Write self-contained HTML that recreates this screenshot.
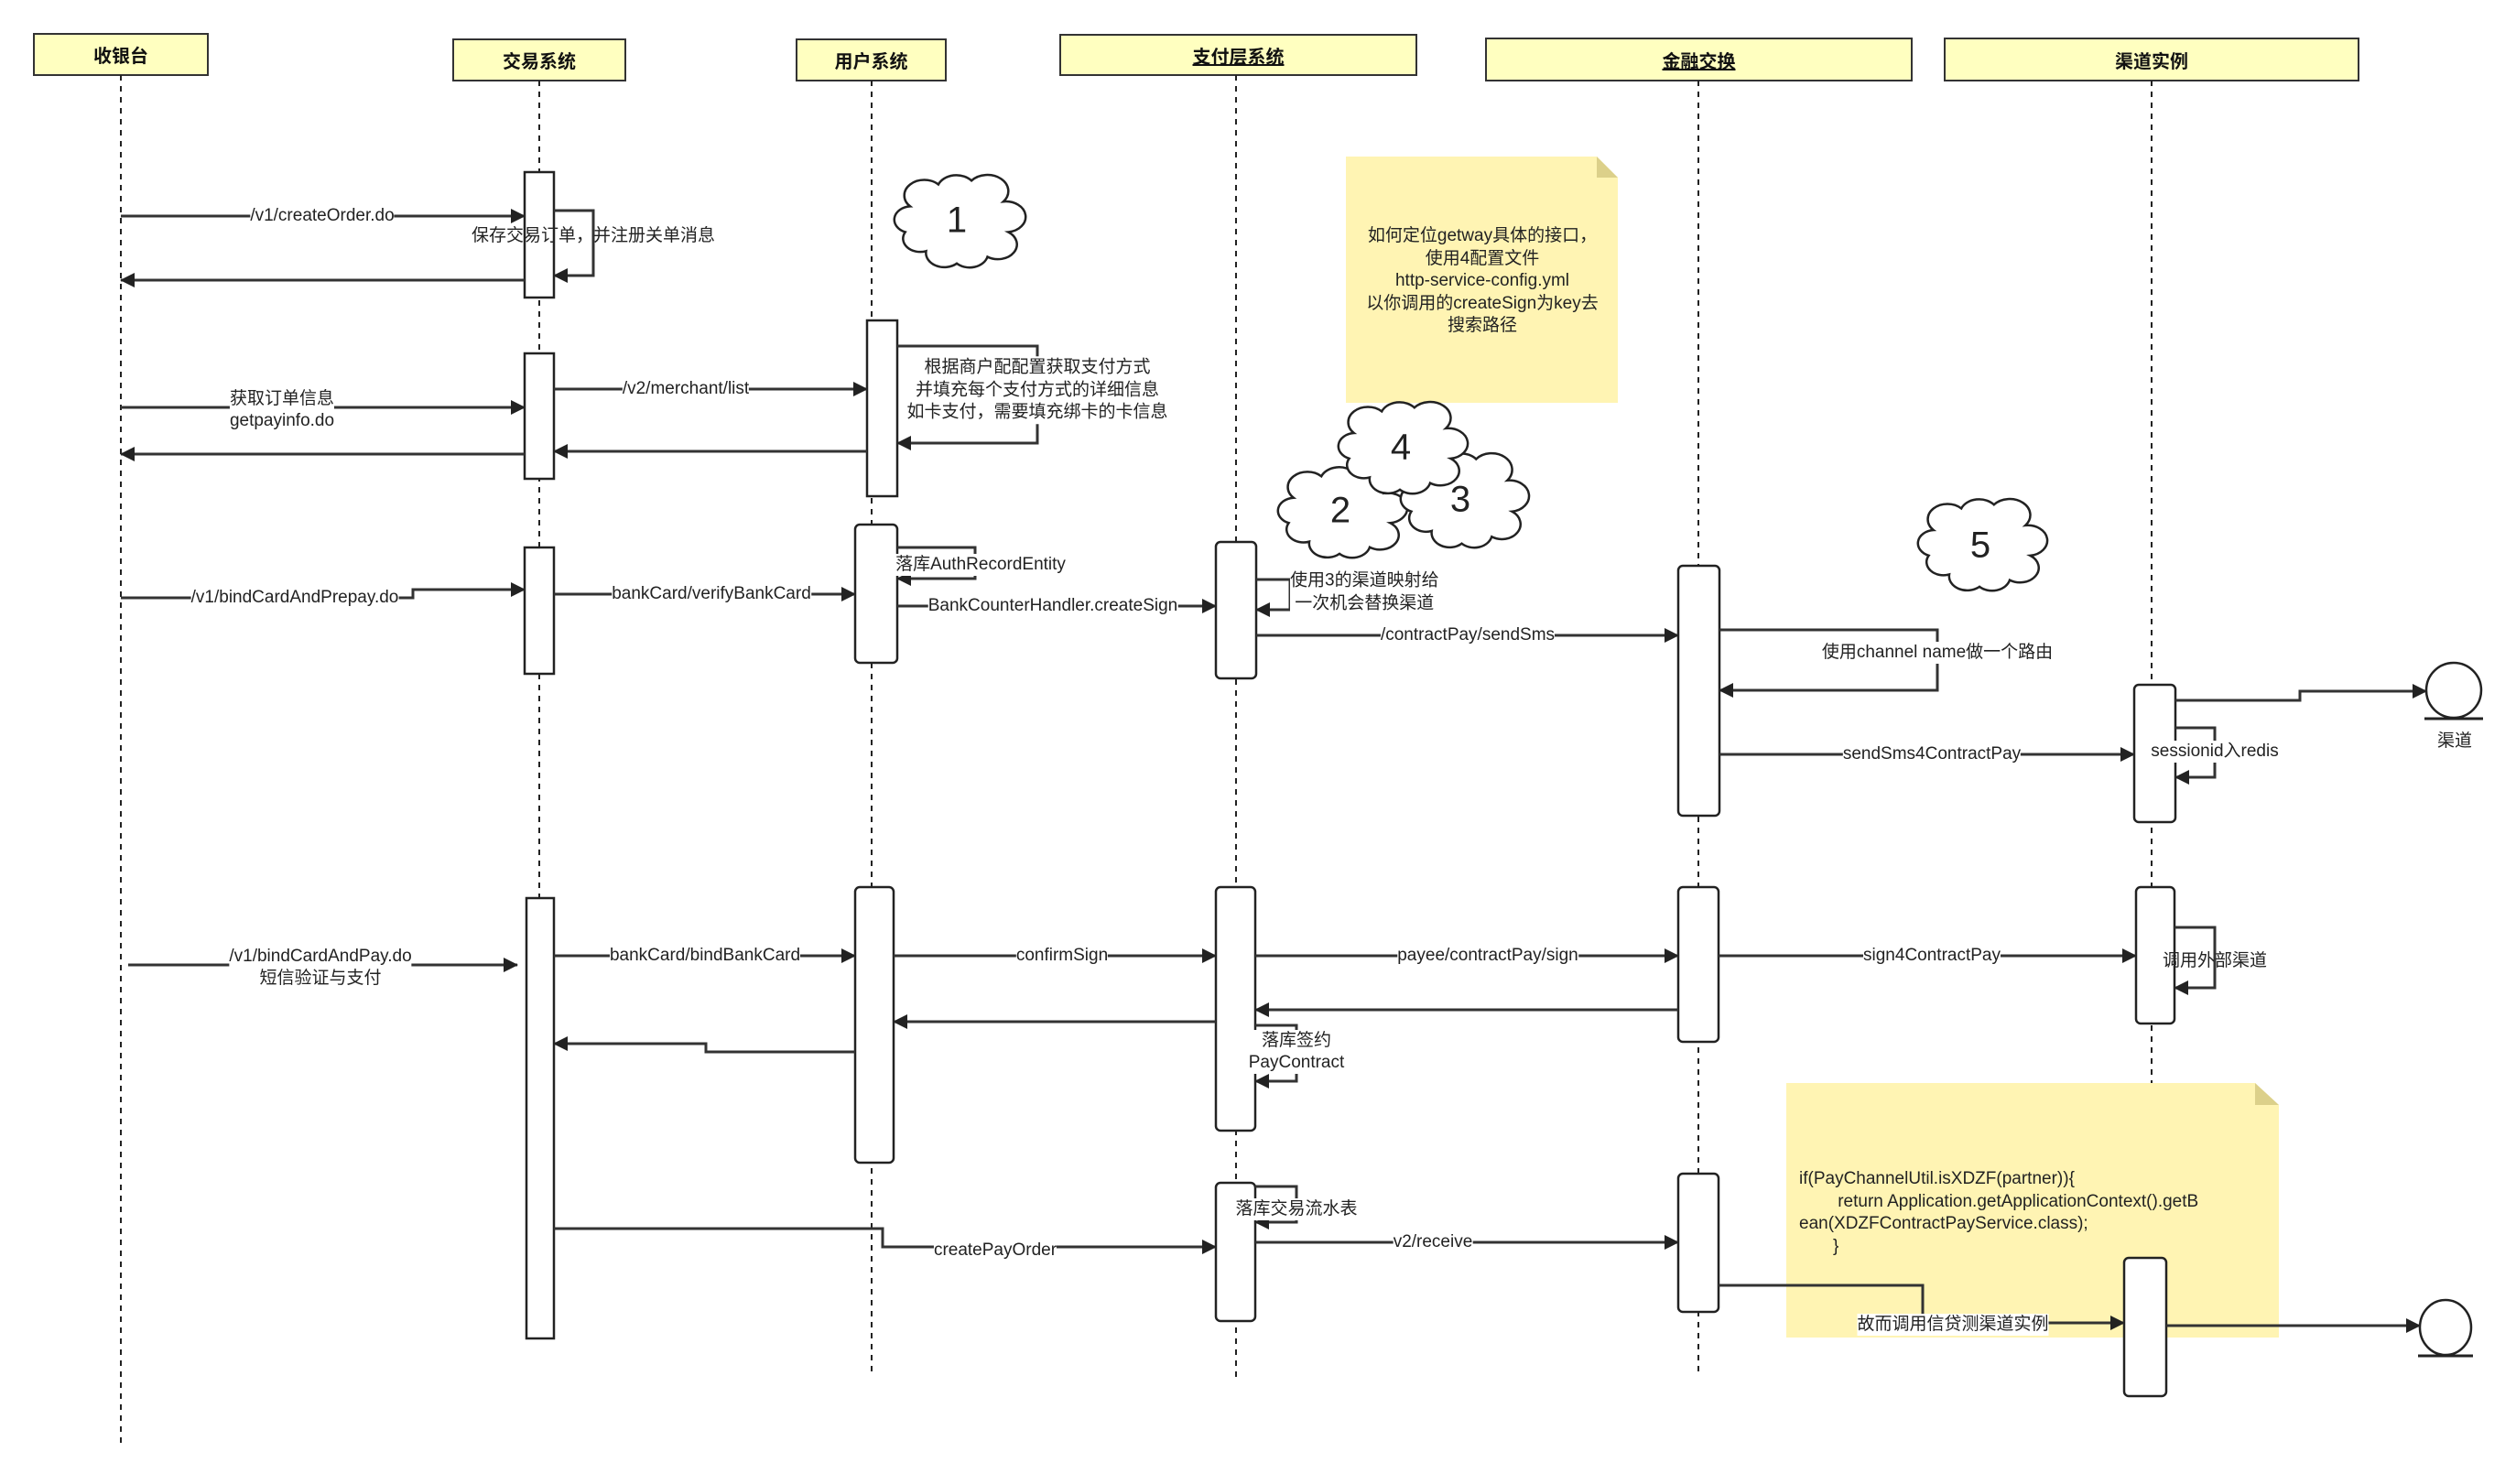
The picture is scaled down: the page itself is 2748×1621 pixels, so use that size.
<!DOCTYPE html>
<html><head><meta charset="utf-8"><style>
html,body{margin:0;padding:0;background:#fff;}
#w{position:relative;width:2748px;height:1621px;overflow:hidden;font-family:"Liberation Sans","Noto Sans CJK SC",sans-serif;}
svg{position:absolute;left:0;top:0;}
.l{position:absolute;transform:translate(-50%,-50%);font-size:19px;color:#222;background:#fff;white-space:nowrap;line-height:24px;text-align:center;}
.n{position:absolute;transform:translate(-50%,-50%);font-size:19px;color:#222;white-space:nowrap;line-height:24.5px;text-align:center;}
.h{position:absolute;display:flex;align-items:center;justify-content:center;font-weight:bold;font-size:20px;color:#111;}
.c{position:absolute;transform:translate(-50%,-50%);font-size:40px;color:#222;}
</style></head><body><div id="w">
<svg width="2748" height="1621" viewBox="0 0 2748 1621">
<defs>
<marker id="a" markerUnits="userSpaceOnUse" markerWidth="16" markerHeight="18" refX="15" refY="9" orient="auto"><path d="M0,1 L16,9 L0,17 Z" fill="#222"/></marker>
</defs>
<g fill="#ffffc0" stroke="#333" stroke-width="2">
<rect x="37" y="37" width="190" height="45"/>
<rect x="495" y="43" width="188" height="45"/>
<rect x="870" y="43" width="163" height="45"/>
<rect x="1158" y="38" width="389" height="44"/>
<rect x="1623" y="42" width="465" height="46"/>
<rect x="2124" y="42" width="452" height="46"/>
</g>
<g stroke="#222" stroke-width="2" stroke-dasharray="6 6" fill="none">
<line x1="132" y1="82" x2="132" y2="1580"/>
<line x1="589" y1="88" x2="589" y2="981"/>
<line x1="952" y1="88" x2="952" y2="1500"/>
<line x1="1350" y1="82" x2="1350" y2="1505"/>
<line x1="1855" y1="88" x2="1855" y2="1500"/>
<line x1="2350" y1="88" x2="2350" y2="1190"/>
</g>
<!-- notes -->
<path d="M1470,171 L1744,171 L1767,194 L1767,440 L1470,440 Z" fill="#fff4b3"/>
<path d="M1744,171 L1767,194 L1744,194 Z" fill="#dcd08a"/>
<path d="M1951,1183 L2463,1183 L2489,1207 L2489,1461 L1951,1461 Z" fill="#fff4b3"/>
<path d="M2463,1183 L2489,1207 L2463,1207 Z" fill="#dcd08a"/>
<!-- clouds -->
<g fill="#fff" stroke="#222" stroke-width="2.5">
<path id="cl" vector-effect="non-scaling-stroke" d="M25,82 A14,14 0 0 1 8,62 A14,14 0 0 1 12,35 A16,16 0 0 1 35,12 A16,16 0 0 1 62,8 A15,15 0 0 1 88,30 A14,14 0 0 1 92,62 A14,14 0 0 1 75,88 A15,15 0 0 1 50,95 A15,15 0 0 1 25,82 Z" transform="translate(978,189) scale(1.34,1.04)"/>
<path vector-effect="non-scaling-stroke" d="M25,82 A14,14 0 0 1 8,62 A14,14 0 0 1 12,35 A16,16 0 0 1 35,12 A16,16 0 0 1 62,8 A15,15 0 0 1 88,30 A14,14 0 0 1 92,62 A14,14 0 0 1 75,88 A15,15 0 0 1 50,95 A15,15 0 0 1 25,82 Z" transform="translate(1397,508) scale(1.32,1.02)"/>
<path vector-effect="non-scaling-stroke" d="M25,82 A14,14 0 0 1 8,62 A14,14 0 0 1 12,35 A16,16 0 0 1 35,12 A16,16 0 0 1 62,8 A15,15 0 0 1 88,30 A14,14 0 0 1 92,62 A14,14 0 0 1 75,88 A15,15 0 0 1 50,95 A15,15 0 0 1 25,82 Z" transform="translate(1531,493) scale(1.31,1.06)"/>
<path vector-effect="non-scaling-stroke" d="M25,82 A14,14 0 0 1 8,62 A14,14 0 0 1 12,35 A16,16 0 0 1 35,12 A16,16 0 0 1 62,8 A15,15 0 0 1 88,30 A14,14 0 0 1 92,62 A14,14 0 0 1 75,88 A15,15 0 0 1 50,95 A15,15 0 0 1 25,82 Z" transform="translate(1463,437) scale(1.32,1.03)"/>
<path vector-effect="non-scaling-stroke" d="M25,82 A14,14 0 0 1 8,62 A14,14 0 0 1 12,35 A16,16 0 0 1 35,12 A16,16 0 0 1 62,8 A15,15 0 0 1 88,30 A14,14 0 0 1 92,62 A14,14 0 0 1 75,88 A15,15 0 0 1 50,95 A15,15 0 0 1 25,82 Z" transform="translate(2096,543) scale(1.32,1.03)"/>
</g>
<!-- activation boxes -->
<g fill="#fff" stroke="#222" stroke-width="2.5">
<rect x="573" y="188" width="32" height="137"/>
<rect x="573" y="386" width="32" height="137"/>
<rect x="947" y="350" width="33" height="192"/>
<rect x="573" y="598" width="32" height="138"/>
<rect x="934" y="573" width="46" height="151" rx="5"/>
<rect x="1328" y="592" width="44" height="149" rx="5"/>
<rect x="1833" y="618" width="45" height="273" rx="5"/>
<rect x="2331" y="748" width="45" height="150" rx="5"/>
<rect x="575" y="981" width="30" height="481"/>
<rect x="934" y="969" width="42" height="301" rx="5"/>
<rect x="1328" y="969" width="43" height="266" rx="5"/>
<rect x="1833" y="969" width="44" height="169" rx="5"/>
<rect x="2333" y="969" width="42" height="149" rx="5"/>
<rect x="1328" y="1292" width="43" height="151" rx="5"/>
<rect x="1833" y="1282" width="44" height="151" rx="5"/>
<rect x="2320" y="1374" width="46" height="151" rx="5"/>
<ellipse cx="2680" cy="754" rx="30" ry="30"/>
<ellipse cx="2671" cy="1450" rx="28" ry="30"/>
</g>
<g stroke="#222" stroke-width="3">
<line x1="2648" y1="785" x2="2712" y2="785"/>
<line x1="2641" y1="1481" x2="2701" y2="1481"/>
</g>
<!-- arrows -->
<g stroke="#333" stroke-width="3" fill="none" marker-end="url(#a)">
<polyline points="132,236 573,236"/>
<polyline points="605,230 648,230 648,301 605,301"/>
<polyline points="573,306 132,306"/>
<polyline points="132,445 573,445"/>
<polyline points="573,496 132,496"/>
<polyline points="605,425 947,425"/>
<polyline points="980,378 1133,378 1133,484 980,484"/>
<polyline points="947,493 605,493"/>
<polyline points="132,653 451,653 451,644 573,644"/>
<polyline points="605,649 934,649"/>
<polyline points="980,598 1065,598 1065,632 980,632"/>
<polyline points="980,662 1328,662"/>
<polyline points="1372,633 1409,633 1409,666 1372,666"/>
<polyline points="1372,694 1833,694"/>
<polyline points="1878,688 2116,688 2116,754 1878,754"/>
<polyline points="1878,824 2331,824"/>
<polyline points="2376,765 2512,765 2512,755 2650,755"/>
<polyline points="2376,795 2419,795 2419,849 2376,849"/>
<polyline points="140,1054 565,1054"/>
<polyline points="605,1044 934,1044"/>
<polyline points="976,1044 1328,1044"/>
<polyline points="1371,1044 1833,1044"/>
<polyline points="1877,1044 2333,1044"/>
<polyline points="2375,1013 2419,1013 2419,1079 2375,1079"/>
<polyline points="1833,1103 1371,1103"/>
<polyline points="1328,1116 976,1116"/>
<polyline points="934,1149 771,1149 771,1140 605,1140"/>
<polyline points="1371,1120 1416,1120 1416,1181 1371,1181"/>
<polyline points="1371,1296 1416,1296 1416,1335 1371,1335"/>
<polyline points="605,1342 964,1342 964,1362 1328,1362"/>
<polyline points="1371,1357 1833,1357"/>
<polyline points="1877,1404 2100,1404 2100,1445 2320,1445"/>
<polyline points="2366,1448 2643,1448"/>
</g>
</svg>
<div class="h" style="left:37px;top:37px;width:190px;height:45px">收银台</div>
<div class="h" style="left:495px;top:43px;width:188px;height:45px">交易系统</div>
<div class="h" style="left:870px;top:43px;width:163px;height:45px">用户系统</div>
<div class="h" style="left:1158px;top:38px;width:389px;height:44px;text-decoration:underline">支付层系统</div>
<div class="h" style="left:1623px;top:42px;width:465px;height:46px;text-decoration:underline">金融交换</div>
<div class="h" style="left:2124px;top:42px;width:452px;height:46px">渠道实例</div>

<div class="c" style="left:1045px;top:241px">1</div>
<div class="c" style="left:1464px;top:558px">2</div>
<div class="c" style="left:1595px;top:546px">3</div>
<div class="c" style="left:1530px;top:489px">4</div>
<div class="c" style="left:2163px;top:596px">5</div>

<div class="n" style="left:1619px;top:307px">如何定位getway具体的接口，<br>使用4配置文件<br>http-service-config.yml<br>以你调用的createSign为key去<br>搜索路径</div>
<div class="n" style="left:1965px;top:1325px;transform:translate(0,-50%);text-align:left">if(PayChannelUtil.isXDZF(partner)){<br>&nbsp;&nbsp;&nbsp;&nbsp;&nbsp;&nbsp;&nbsp;&nbsp;return Application.getApplicationContext().getB<br>ean(XDZFContractPayService.class);<br>&nbsp;&nbsp;&nbsp;&nbsp;&nbsp;&nbsp;&nbsp;}</div>

<div class="l" style="left:352px;top:236px">/v1/createOrder.do</div>
<div class="l" style="left:648px;top:258px;background:transparent">保存交易订单，并注册关单消息</div>
<div class="l" style="left:308px;top:448px">获取订单信息<br>getpayinfo.do</div>
<div class="l" style="left:749px;top:425px">/v2/merchant/list</div>
<div class="n" style="left:1133px;top:426px;background:#fff">根据商户配配置获取支付方式<br>并填充每个支付方式的详细信息<br>如卡支付，需要填充绑卡的卡信息</div>
<div class="l" style="left:322px;top:653px">/v1/bindCardAndPrepay.do</div>
<div class="l" style="left:777px;top:649px">bankCard/verifyBankCard</div>
<div class="l" style="left:1071px;top:617px">落库AuthRecordEntity</div>
<div class="l" style="left:1150px;top:662px">BankCounterHandler.createSign</div>
<div class="n" style="left:1409px;top:647px;transform:translate(0,-50%);text-align:left;background:#fff">使用3的渠道映射给<br>&nbsp;一次机会替换渠道</div>
<div class="l" style="left:1603px;top:694px">/contractPay/sendSms</div>
<div class="l" style="left:2116px;top:713px">使用channel name做一个路由</div>
<div class="l" style="left:2110px;top:824px">sendSms4ContractPay</div>
<div class="l" style="left:2419px;top:821px">sessionid入redis</div>
<div class="n" style="left:2681px;top:810px">渠道</div>
<div class="l" style="left:350px;top:1057px">/v1/bindCardAndPay.do<br>短信验证与支付</div>
<div class="l" style="left:770px;top:1044px">bankCard/bindBankCard</div>
<div class="l" style="left:1160px;top:1044px">confirmSign</div>
<div class="l" style="left:1625px;top:1044px">payee/contractPay/sign</div>
<div class="l" style="left:2110px;top:1044px">sign4ContractPay</div>
<div class="l" style="left:2419px;top:1050px;background:transparent">调用外部渠道</div>
<div class="l" style="left:1416px;top:1149px">落库签约<br>PayContract</div>
<div class="l" style="left:1416px;top:1321px">落库交易流水表</div>
<div class="l" style="left:1087px;top:1366px">createPayOrder</div>
<div class="l" style="left:1565px;top:1357px">v2/receive</div>
<div class="l" style="left:2133px;top:1447px">故而调用信贷测渠道实例</div>
</div></body></html>
